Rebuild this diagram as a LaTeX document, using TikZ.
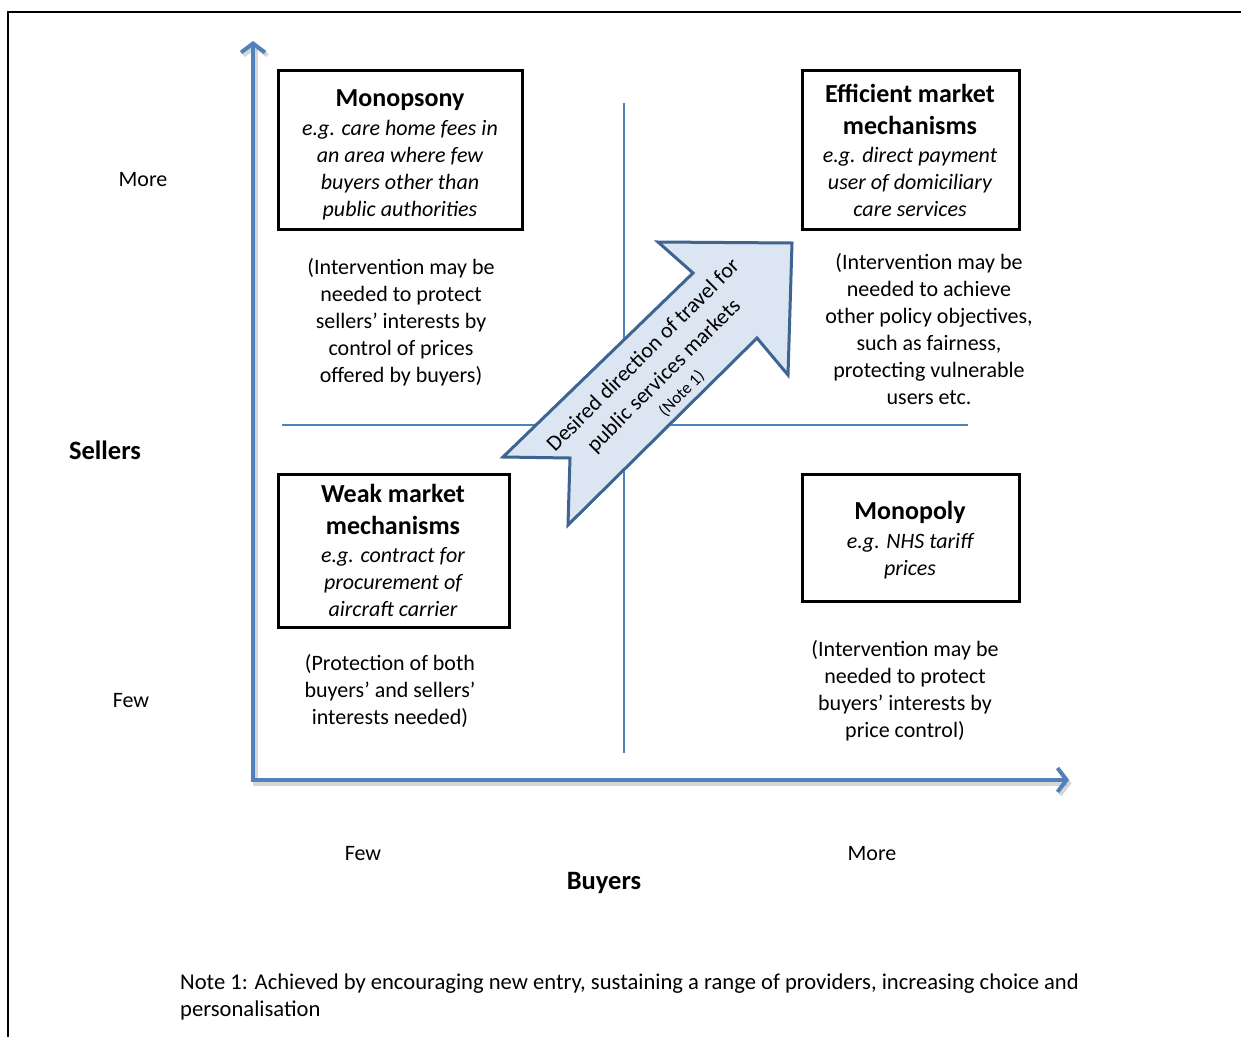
\documentclass[tikz,border=0pt]{standalone}
\usepackage{fontspec}
\setmainfont{Carlito}
\usetikzlibrary{arrows.meta}
\definecolor{axisblue}{HTML}{4F81BD}
\definecolor{arrowline}{HTML}{3D6493}
\definecolor{arrowfill}{HTML}{DCE6F2}
\begin{document}
\begin{tikzpicture}[x=1pt,y=-1pt,
  body/.style={font=\fontsize{22}{27}\selectfont, align=center, inner sep=0pt, text=black},
  lbl/.style={font=\fontsize{22}{27}\selectfont, inner sep=0pt},
  blbl/.style={font=\fontsize{26.5}{31}\selectfont\bfseries, inner sep=0pt},
  qbox/.style={draw=black, line width=3pt, inner sep=0pt},
  axis/.style={draw=axisblue, line width=4pt, line join=miter},
  axisshadow/.style={draw=black!45, line width=5pt, opacity=0.35},
  thin/.style={draw=axisblue, line width=1.6pt},
  bigarrow/.style={draw=arrowline, fill=arrowfill, line width=3pt, line join=miter},
  barb/.tip={Straight Barb[length=9pt, width=24pt, line width=4pt]}
]
\useasboundingbox (0,0) rectangle (1241,1036);
\clip (0,0) rectangle (1241,1036);
\fill[white] (0,0) rectangle (1241,1036);

% frame (only top and left sides visible)
\coordinate (frameBL) at (8,1050);
\coordinate (frameTL) at (8,12);
\coordinate (frameTR) at (1260,12);
\draw[line width=2.5pt] (frameBL) -- (frameTL) -- (frameTR);

% axes
\coordinate (origin) at (253,780);
\coordinate (ytop) at (253,41);
\coordinate (xend) at (1069,780);
\coordinate (sorigin) at (255.5,783);
\coordinate (sytop) at (255.5,44);
\coordinate (sxend) at (1071.5,783);
\draw[axisshadow, {barb}-{barb}] (sytop) -- (sorigin) -- (sxend);
\draw[axis, {barb}-{barb}] (ytop) -- (origin) -- (xend);

% quadrant lines
\coordinate (vtop) at (624,103);
\coordinate (vbot) at (624,753);
\coordinate (hleft) at (282,425);
\coordinate (hright) at (968,425);
\draw[thin] (vtop) -- (vbot);
\draw[thin] (hleft) -- (hright);

% axis labels
\node[lbl] (moreY) at (143,180) {More};
\node[lbl] (fewY) at (131,701) {Few};
\node[blbl] (sellers) at (105,450) {Sellers};
\node[lbl] (fewX) at (363,854) {Few};
\node[lbl] (moreX) at (872,854) {More};
\node[blbl] (buyers) at (604,883) {Buyers};

% boxes
\node[qbox, minimum width=244pt, minimum height=159pt] (monopsony) at (400,149.5) {};
\node[qbox, minimum width=217pt, minimum height=159pt] (efficient) at (910.5,149.5) {};
\node[qbox, minimum width=231pt, minimum height=153pt] (weak) at (393.5,550.5) {};
\node[qbox, minimum width=217pt, minimum height=127pt] (monopoly) at (910.5,537.5) {};

\node[body] (monopsonyT) at (400,154.5) {{\fontsize{26}{31}\selectfont\bfseries Monopsony}\\[2pt]
  \itshape e.g. care home fees in\\ \itshape an area where few\\ \itshape buyers other than\\ \itshape public authorities};
\node[body] (efficientT) at (910,150.5) {{\fontsize{26}{31}\selectfont\bfseries Efficient market}\\[5pt]
  {\fontsize{26}{31}\selectfont\bfseries mechanisms}\\[1pt]
  \itshape e.g. direct payment\\ \itshape user of domiciliary\\ \itshape care services};
\node[body] (weakT) at (393,550.5) {{\fontsize{26}{31}\selectfont\bfseries Weak market}\\[5pt]
  {\fontsize{26}{31}\selectfont\bfseries mechanisms}\\[1pt]
  \itshape e.g. contract for\\ \itshape procurement of\\ \itshape aircraft carrier};
\node[body] (monopolyT) at (910,540) {{\fontsize{26}{31}\selectfont\bfseries Monopoly}\\[2pt]
  \itshape e.g. NHS tariff\\ \itshape prices};

% explanatory paragraphs
\node[body] (monopsonyP) at (401,322) {(Intervention may be\\ needed to protect\\ sellers’ interests by\\ control of prices\\ offered by buyers)};
\node[body] (efficientP) at (929,329.5) {(Intervention may be\\ needed to achieve\\ other policy objectives,\\ such as fairness,\\ protecting vulnerable\\ users etc.};
\node[body] (weakP) at (390,691) {(Protection of both\\ buyers’ and sellers’\\ interests needed)};
\node[body] (monopolyP) at (905,691) {(Intervention may be\\ needed to protect\\ buyers’ interests by\\ price control)};

% big arrow
\coordinate (a1) at (792,243);
\coordinate (a2) at (658,242);
\coordinate (a3) at (693,273);
\coordinate (a4) at (503,457);
\coordinate (a5) at (570,458);
\coordinate (a6) at (568,525);
\coordinate (a7) at (757,338);
\coordinate (a8) at (788,375);
\draw[bigarrow] (a1) -- (a2) -- (a3) -- (a4) -- (a5) -- (a6) -- (a7) -- (a8) -- cycle;
\node[body, rotate=45] (arrowT) at (662,374) {Desired direction of travel for\\[2pt] public services markets\\[-3pt] {\fontsize{17}{20}\selectfont (Note 1)}};

% note
\node[lbl, anchor=west, align=left, font=\fontsize{22.6}{27}\selectfont] (note) at (180,997) {Note 1: Achieved by encouraging new entry, sustaining a range of providers, increasing choice and\\ personalisation};
\end{tikzpicture}
\end{document}
